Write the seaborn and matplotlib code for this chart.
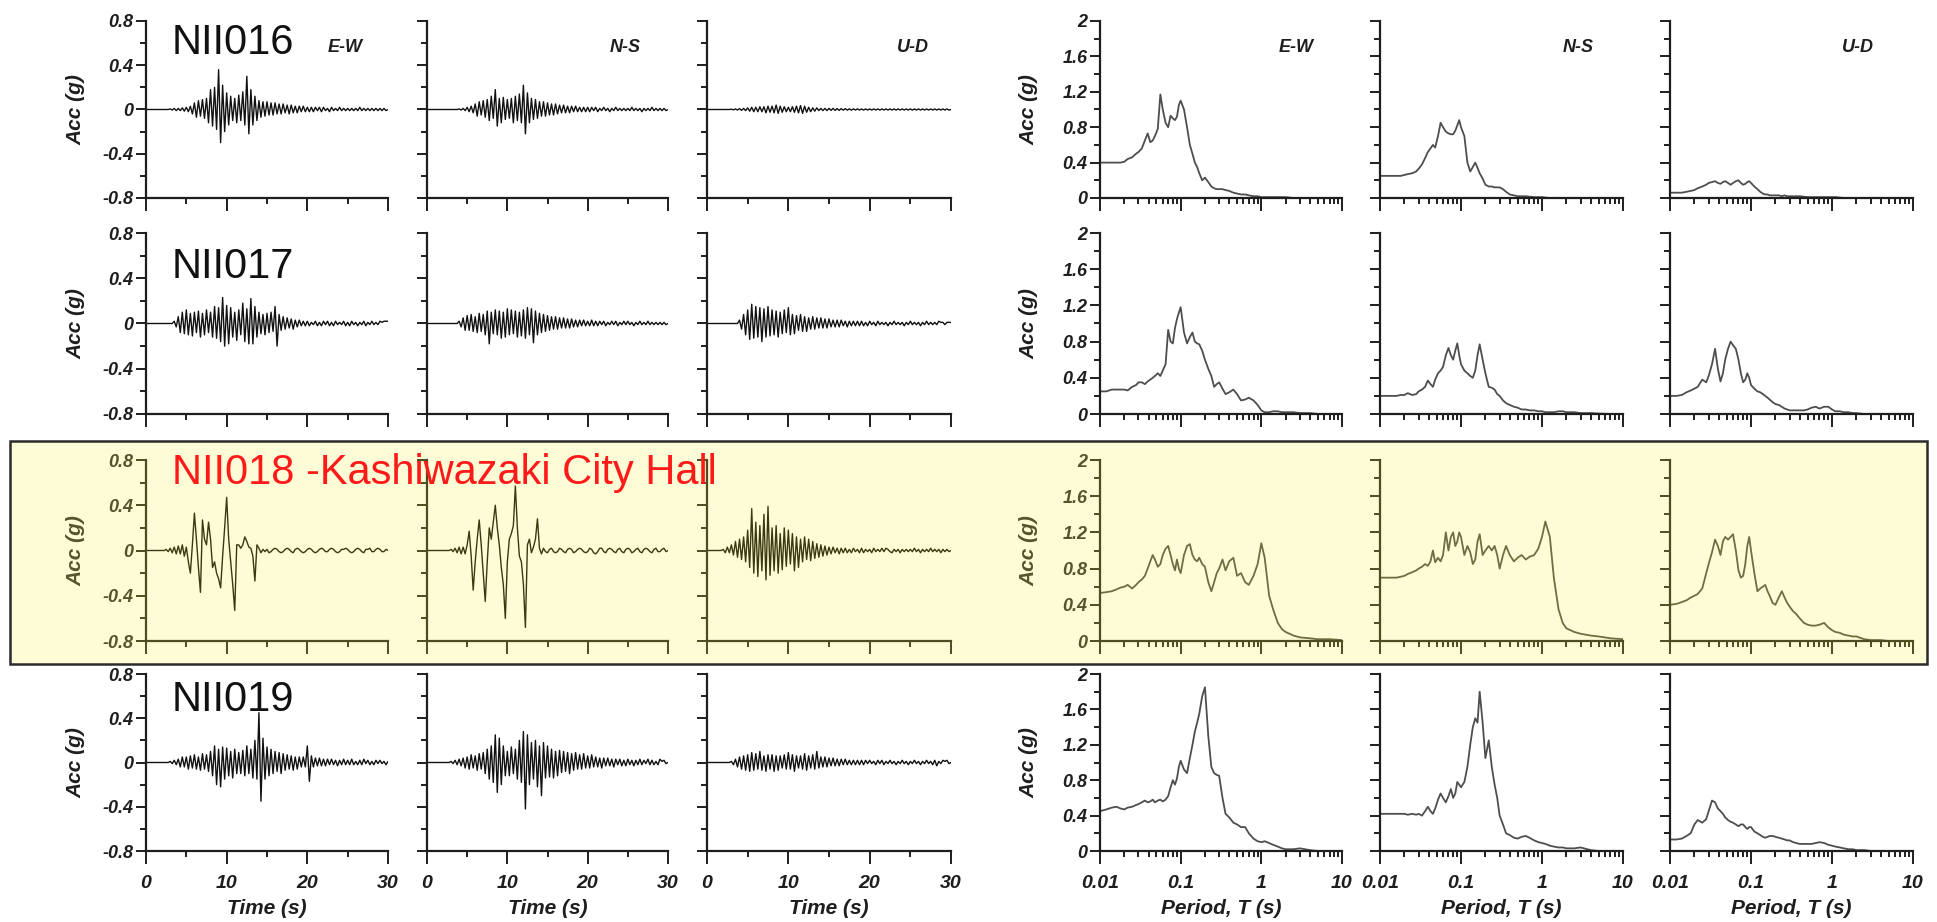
import numpy as np
import matplotlib
matplotlib.use('Agg')
import matplotlib.pyplot as plt
import matplotlib.ticker as mticker
from matplotlib.patches import Rectangle
import seaborn as sns

# ---------------------------------------------------------------- data
STATIONS = ['NII016', 'NII017', 'NII018 -Kashiwazaki City Hall', 'NII019']
COMPONENTS = ['E-W', 'N-S', 'U-D']
TIME_STEP = 0.25  # s, sampling of the traced records (0..30 s)

# acceleration time histories (g), one value every 0.25 s
ACC_016_EW = [0, 0, 0, 0, 0, 0, 0, 0, 0, 0, 0, 0, .005, -.005, .01, -.01, .01, -.01, .015, -.015,
              .02, -.02, .03, -.04, .06, -.07, .08, -.06, .09, -.08, .10, -.12, .18, -.15, .20, -.18, .36, -.30, .22, -.20,
              .15, -.14, .12, -.10, .10, -.12, .13, -.10, .16, -.14, .30, -.22, .18, -.14, .12, -.10, .08, -.07, .07, -.06,
              .07, -.05, .06, -.05, .06, -.04, .05, -.04, .05, -.03, .04, -.04, .04, -.03, .03, -.03, .03, -.02, .03, -.02,
              .02, -.02, .02, -.02, .02, -.01, .02, -.02, .02, -.01, .01, -.02, .02, -.01, .01, -.01, .02, -.01, .01, -.01,
              .01, -.01, .01, -.01, .01, -.01, .02, -.01, .01, -.01, .01, -.01, .01, -.01, .01, -.01, .01, -.01, .01, -.01,
              0]
ACC_016_NS = [0, 0, 0, 0, 0, 0, 0, 0, 0, 0, 0, 0, 0, 0, 0, 0, .005, -.005, .01, -.01,
              .02, -.02, .03, -.03, .05, -.06, .07, -.05, .08, -.07, .09, -.10, .12, -.08, .18, -.15, .10, -.12, .11, -.09,
              .09, -.08, .10, -.12, .12, -.10, .14, -.12, .22, -.22, .15, -.12, .10, -.09, .09, -.08, .07, -.06, .07, -.06,
              .06, -.05, .05, -.05, .05, -.04, .04, -.03, .04, -.03, .03, -.03, .03, -.02, .03, -.02, .02, -.02, .02, -.02,
              .02, -.02, .02, -.01, .02, -.02, .01, -.01, .02, -.01, .01, -.02, .01, -.01, .02, -.01, .01, -.01, .01, -.01,
              .01, -.01, .02, -.01, .01, -.01, .01, -.02, .01, -.01, .01, -.01, .02, -.01, .01, -.01, .01, -.01, .01, -.01,
              0]
ACC_016_UD = [0, 0, 0, 0, 0, 0, 0, 0, 0, 0, 0, 0, .003, -.003, .005, -.005, .008, -.008, .01, -.01,
              .015, -.015, .02, -.02, .02, -.02, .025, -.02, .025, -.03, .03, -.025, .03, -.03, .04, -.035, .03, -.025, .025, -.02,
              .02, -.02, .025, -.025, .03, -.03, .035, -.035, .03, -.025, .02, -.02, .015, -.015, .015, -.01, .01, -.01, .01, -.01,
              .01, -.008, .01, -.008, .008, -.008, .008, -.006, .008, -.006, .006, -.006, .006, -.005, .006, -.005, .005, -.005, .005, -.005,
              .005, -.005, .005, -.005, .005, -.005, .005, -.005, .005, -.005, .005, -.005, .005, -.005, .005, -.005, .005, -.005, .005, -.005,
              .005, -.005, .005, -.005, .005, -.005, .005, -.005, .005, -.005, .005, -.005, .005, -.005, .005, -.005, .005, -.005, .005, -.005,
              0]
ACC_017_EW = [0, 0, 0, 0, 0, 0, 0, 0, 0, 0, 0, 0, 0, 0, .02, -.03, .06, -.08, .10, -.09,
              .12, -.10, .09, -.11, .10, -.08, .11, -.12, .09, -.10, .12, -.08, .10, -.12, .15, -.13, .14, -.16, .23, -.20,
              .16, -.18, .14, -.12, .10, -.15, .12, -.10, .18, -.16, .13, -.18, .22, -.18, .15, -.12, .10, -.09, .08, -.10,
              .09, -.08, .10, -.07, .15, -.20, .08, -.06, .06, -.05, .05, -.04, .04, -.05, .03, -.03, .03, -.02, .02, -.02,
              .02, -.02, .01, -.01, .02, -.02, .01, -.02, .02, -.01, .02, -.02, .01, -.02, .02, -.01, .01, -.01, .02, -.02,
              .01, -.02, .02, -.01, .01, -.02, .01, -.01, .02, -.02, .01, -.01, .02, -.01, .01, -.01, .02, .01, .02, .02,
              .02]
ACC_017_NS = [0, 0, 0, 0, 0, 0, 0, 0, 0, 0, 0, 0, 0, 0, 0, 0, .02, -.03, .05, -.06,
              .07, -.06, .08, -.07, .06, -.08, .09, -.07, .08, -.10, .11, -.18, .10, -.09, .12, -.10, .11, -.13, .10, -.12,
              .13, -.10, .12, -.09, .11, -.12, .10, -.11, .12, -.13, .14, -.10, .13, -.17, .11, -.10, .09, -.08, .08, -.07,
              .07, -.06, .06, -.05, .06, -.05, .05, -.04, .05, -.04, .04, -.04, .04, -.03, .03, -.03, .03, -.02, .03, -.02,
              .02, -.02, .03, -.02, .02, -.02, .02, -.01, .02, -.02, .01, -.01, .02, -.01, .02, -.02, .01, -.01, .02, -.01,
              .02, -.01, .01, -.02, .01, -.01, .02, -.01, .01, -.01, .02, -.01, .01, -.01, .01, -.01, .01, -.01, .01, -.01,
              0]
ACC_017_UD = [0, 0, 0, 0, 0, 0, 0, 0, 0, 0, 0, 0, 0, 0, 0, 0, .03, -.05, .08, -.10,
              .12, -.14, .17, -.13, .15, -.12, .14, -.16, .13, -.12, .15, -.11, .12, -.10, .11, -.12, .10, -.09, .12, -.08,
              .14, -.10, .08, -.09, .07, -.06, .08, -.07, .06, -.07, .05, -.05, .06, -.05, .05, -.04, .05, -.04, .04, -.04,
              .04, -.03, .03, -.03, .03, -.03, .03, -.02, .02, -.03, .02, -.02, .02, -.02, .02, -.02, .02, -.02, .01, -.02,
              .02, -.01, .01, -.02, .02, -.01, .01, -.01, .01, -.02, .01, -.01, .02, -.01, .01, -.01, .01, -.02, .01, -.01,
              .02, -.01, .01, -.01, .01, -.02, .01, -.01, .02, -.01, .01, -.01, .01, -.01, .02, .01, .01, -.01, .01, .01,
              .01]
ACC_018_EW = [0, 0, 0, 0, 0, 0, 0, 0, 0, 0, .01, -.01, .02, -.02, .03, -.03, .04, -.03, .05, -.05,
              .03, -.10, -.20, .05, .33, .10, -.15, -.37, .27, .10, .05, .25, .10, -.15, -.10, -.20, -.25, -.33, -.05, .20,
              .47, .10, -.10, -.30, -.53, .05, .05, .02, .05, .12, .08, .03, .02, -.05, -.27, .05, .02, -.02, .01, -.01,
              .01, -.02, -.01, .01, .02, .01, -.01, -.02, -.01, .01, .02, .01, -.01, -.02, .01, .02, .01, -.01, -.02, -.01,
              .01, .02, .01, -.01, -.02, -.01, .01, .02, .01, -.01, -.01, .01, .02, .01, -.01, -.02, -.01, .01, .01, .02,
              .01, -.01, -.02, -.01, .01, .02, .01, -.01, -.02, .01, .01, .02, -.01, -.01, .01, .02, .01, -.01, -.01, .01,
              0]
ACC_018_NS = [0, 0, 0, 0, 0, 0, 0, 0, 0, 0, 0, 0, .01, -.01, .02, -.02, .03, -.03, .03, -.03,
              .05, .17, -.05, -.35, -.10, .10, .27, .05, -.20, -.45, -.10, .20, .10, .25, .40, .20, .05, -.15, -.30, -.60,
              -.10, .10, .15, .22, .57, .20, -.05, -.10, -.30, -.68, .05, .10, -.02, .03, .10, .28, .02, -.03, .02, -.01,
              -.02, .01, .02, -.01, -.02, -.01, .02, .01, -.01, -.02, .01, .02, .01, -.02, -.01, .01, .02, .01, -.01, -.02,
              -.01, .02, .01, -.02, -.03, -.01, .02, .02, -.01, -.02, .01, .02, .01, -.01, -.02, .01, .02, -.01, -.02, .01,
              .02, .01, -.02, -.01, .01, .02, -.01, -.02, .01, .02, .01, -.01, -.02, .01, .02, -.01, -.01, .01, .02, -.01,
              0]
ACC_018_UD = [0, 0, 0, 0, 0, 0, 0, 0, .01, -.02, .03, -.02, .05, -.04, .08, -.06, .10, -.08, .12, -.10,
              .18, -.15, .37, -.20, .25, -.23, .22, -.18, .32, -.26, .39, -.22, .20, -.18, .22, -.20, .15, -.17, .20, -.14,
              .18, -.12, .15, -.18, .12, -.15, .10, -.10, .12, -.08, .10, -.09, .08, -.07, .06, -.06, .05, -.05, .04, -.04,
              .03, -.03, .03, -.02, .02, -.03, .02, -.02, .02, -.02, .01, -.02, .02, -.01, .01, -.02, .02, -.02, .01, -.01,
              .01, -.02, .02, -.01, .01, -.01, .02, -.01, .02, .01, -.01, -.02, .01, -.01, .01, -.02, .01, -.01, .01, -.01,
              .01, -.01, .02, -.01, .01, -.02, .01, -.01, .01, -.01, .02, -.01, .01, -.01, .01, -.02, .01, -.01, .01, -.01,
              0]
ACC_019_EW = [0, 0, 0, 0, 0, 0, 0, 0, 0, 0, 0, 0, .01, -.01, .02, -.02, .03, -.04, .05, -.04,
              .05, -.06, .06, -.05, .07, -.06, .05, -.07, .08, -.06, .07, -.08, .10, -.12, .15, -.20, .12, -.22, .14, -.15,
              .13, -.12, .10, -.14, .12, -.10, .09, -.10, .11, -.12, .15, -.10, .12, -.14, .20, -.15, .45, -.35, .22, -.15,
              .14, -.12, .12, -.10, .10, -.08, .09, -.10, .08, -.07, .07, -.06, .06, -.07, .05, -.06, .05, -.04, .05, -.04,
              .15, -.17, .06, -.04, .04, -.03, .04, -.03, .03, -.03, .03, -.02, .03, -.02, .02, -.03, .02, -.02, .03, -.02,
              .02, -.02, .03, -.02, .01, -.02, .02, -.02, .03, -.01, .02, -.02, .01, -.02, .02, -.01, .02, -.01, .01, -.02,
              .01]
ACC_019_NS = [0, 0, 0, 0, 0, 0, 0, 0, 0, 0, 0, 0, .01, -.01, .02, -.02, .03, -.03, .04, -.05,
              .05, -.06, .07, -.05, .06, -.07, .08, -.06, .09, -.10, .12, -.15, .15, -.18, .25, -.27, .22, -.20, .15, -.12,
              .10, -.12, .14, -.10, .12, -.15, .20, -.18, .28, -.42, .25, -.20, .18, -.15, .20, -.22, .15, -.30, .18, -.14,
              .15, -.13, .12, -.14, .10, -.12, .11, -.09, .10, -.08, .09, -.10, .08, -.07, .09, -.06, .07, -.06, .08, -.05,
              .06, -.05, .07, -.04, .05, -.04, .04, -.05, .04, -.03, .04, -.03, .03, -.04, .03, -.02, .03, -.03, .02, -.03,
              .03, -.02, .02, -.03, .02, -.02, .03, -.02, .02, -.01, .03, -.02, .02, -.02, .01, -.02, .03, .01, .02, -.01,
              0]
ACC_019_UD = [0, 0, 0, 0, 0, 0, 0, 0, 0, 0, 0, 0, .01, -.02, .03, -.04, .05, -.06, .06, -.07,
              .07, -.08, .09, -.07, .08, -.06, .10, -.07, .06, -.08, .07, -.06, .07, -.08, .06, -.07, .06, -.05, .07, -.06,
              .09, -.06, .07, -.08, .06, -.05, .06, -.06, .08, -.07, .06, -.05, .07, -.06, .10, -.05, .05, -.04, .05, -.04,
              .04, -.03, .04, -.03, .03, -.03, .03, -.02, .03, -.02, .02, -.02, .02, -.02, .02, -.02, .02, -.02, .02, -.01,
              .02, -.01, .01, -.02, .02, -.01, .02, -.02, .01, -.01, .02, -.01, .01, -.02, .01, -.01, .02, -.01, .01, -.02,
              .01, -.01, .02, -.01, .01, -.02, .01, -.01, .02, -.01, .01, -.02, .02, -.03, .01, -.01, .02, .01, .02, -.01,
              0]

# response spectra (g) on a common period grid (s)
PERIODS = [0.010, 0.012, 0.014, 0.016, 0.018, 0.020, 0.022, 0.025, 0.028, 0.030,
           0.033, 0.036, 0.039, 0.042, 0.045, 0.048, 0.052, 0.056, 0.060, 0.065,
           0.070, 0.075, 0.080, 0.085, 0.090, 0.095, 0.100, 0.110, 0.120, 0.130,
           0.140, 0.150, 0.160, 0.170, 0.185, 0.200, 0.220, 0.240, 0.260, 0.280,
           0.300, 0.330, 0.360, 0.400, 0.450, 0.500, 0.560, 0.630, 0.700, 0.800,
           0.900, 1.000, 1.100, 1.250, 1.400, 1.600, 1.800, 2.000, 2.500, 3.000,
           4.000, 5.000, 7.000, 10.00]
SA_016_EW = [.40, .40, .40, .40, .40, .41, .44, .46, .50, .52,
             .56, .65, .73, .63, .65, .70, .78, 1.17, 1.00, .85,
             .80, .93, .90, .88, .92, 1.05, 1.10, 1.00, .80, .60,
             .50, .40, .35, .28, .20, .23, .18, .13, .11, .10,
             .10, .10, .09, .08, .06, .05, .04, .04, .03, .02,
             .02, .01, .01, .01, .01, .01, .01, .01, 0, 0,
             0, 0, 0, 0]
SA_016_NS = [.25, .25, .25, .25, .25, .26, .27, .28, .30, .33,
             .38, .45, .52, .56, .60, .57, .70, .85, .80, .75,
             .73, .72, .72, .76, .82, .88, .80, .70, .40, .30,
             .35, .40, .34, .28, .22, .15, .13, .13, .12, .12,
             .12, .10, .07, .04, .03, .02, .02, .02, .015, .01,
             .01, .01, .005, 0, 0, 0, 0, 0, 0, 0,
             0, 0, 0, 0]
SA_016_UD = [.06, .06, .06, .07, .08, .09, .11, .13, .15, .17,
             .18, .19, .17, .16, .18, .19, .17, .15, .17, .19,
             .20, .17, .15, .16, .18, .19, .17, .13, .10, .07,
             .05, .04, .04, .03, .03, .03, .03, .02, .03, .02,
             .02, .02, .02, .02, .015, .01, .01, .01, .01, .01,
             .01, .01, .01, .005, 0, 0, 0, 0, 0, 0,
             0, 0, 0, 0]
SA_017_EW = [.25, .25, .27, .27, .27, .27, .26, .30, .32, .35,
             .35, .33, .36, .38, .40, .42, .45, .42, .48, .55,
             .93, .80, .78, .95, 1.05, 1.12, 1.18, .90, .78, .85,
             .90, .80, .78, .77, .70, .60, .50, .42, .30, .33,
             .35, .28, .22, .24, .27, .22, .15, .16, .18, .15,
             .10, .04, .02, .02, .03, .03, .02, .02, .02, .01,
             .01, 0, 0, 0]
SA_017_NS = [.20, .20, .20, .20, .21, .21, .23, .21, .22, .25,
             .27, .30, .37, .33, .30, .38, .45, .48, .52, .65,
             .73, .65, .60, .70, .78, .65, .55, .48, .45, .42,
             .40, .48, .65, .77, .60, .45, .30, .29, .27, .22,
             .20, .15, .12, .10, .08, .07, .05, .05, .04, .04,
             .03, .03, .02, .02, .02, .03, .03, .02, .02, .01,
             .01, .005, 0, 0]
SA_017_UD = [.20, .20, .21, .24, .26, .28, .30, .38, .35, .42,
             .55, .72, .50, .36, .45, .60, .72, .80, .76, .72,
             .60, .45, .35, .38, .45, .40, .32, .28, .25, .24,
             .22, .20, .18, .16, .13, .11, .10, .08, .06, .05,
             .04, .04, .04, .04, .04, .05, .07, .08, .06, .08,
             .08, .05, .03, .03, .02, .02, .01, .01, 0, 0,
             0, 0, 0, 0]
SA_018_EW = [.53, .54, .55, .57, .59, .60, .62, .58, .62, .65,
             .68, .72, .80, .88, .95, .90, .82, .85, .95, 1.02,
             1.05, .95, .85, .78, .90, .80, .75, .95, 1.05, 1.07,
             .95, .90, .88, .92, .85, .82, .65, .55, .65, .75,
             .80, .90, .78, .88, .92, .72, .75, .65, .62, .72,
             .85, 1.08, .92, .50, .35, .20, .13, .10, .06, .04,
             .03, .02, .02, .01]
SA_018_NS = [.70, .70, .70, .70, .71, .72, .74, .76, .78, .80,
             .82, .85, .83, .88, 1.00, .87, .92, .88, .95, 1.20,
             1.00, 1.15, 1.20, 1.05, 1.10, 1.20, 1.15, .95, 1.05, .98,
             .85, .90, 1.10, 1.18, .95, 1.00, 1.05, 1.00, 1.05, .95,
             .80, .95, 1.05, .95, .88, .92, .95, .90, .93, .95,
             1.02, 1.15, 1.32, 1.15, .70, .35, .20, .14, .10, .08,
             .06, .05, .03, .02]
SA_018_UD = [.40, .41, .43, .45, .48, .50, .52, .58, .75, .85,
             .98, 1.12, 1.05, .95, 1.10, 1.15, 1.12, 1.15, 1.18, 1.00,
             .78, .70, .72, .85, 1.05, 1.15, 1.00, .75, .55, .58,
             .60, .62, .55, .50, .42, .40, .48, .55, .48, .42,
             .38, .33, .30, .25, .20, .18, .17, .17, .18, .20,
             .15, .12, .10, .09, .07, .06, .05, .05, .02, .01,
             .01, 0, 0, 0]
SA_019_EW = [.45, .47, .49, .50, .48, .47, .49, .50, .52, .53,
             .55, .57, .55, .56, .58, .55, .57, .58, .56, .58,
             .62, .72, .80, .75, .82, .95, 1.02, .92, .88, 1.05,
             1.20, 1.35, 1.45, 1.55, 1.75, 1.85, 1.30, .95, .88, .86,
             .85, .60, .42, .38, .32, .30, .27, .27, .20, .14,
             .11, .10, .11, .09, .07, .05, .03, .02, .02, .03,
             .01, 0, 0, 0]
SA_019_NS = [.42, .42, .42, .42, .42, .42, .41, .42, .41, .42,
             .40, .45, .50, .45, .42, .48, .58, .65, .60, .55,
             .62, .70, .60, .65, .78, .75, .72, .78, .95, 1.20,
             1.40, 1.50, 1.45, 1.80, 1.45, 1.05, 1.25, .95, .75, .60,
             .40, .30, .20, .18, .15, .14, .16, .17, .15, .12,
             .10, .09, .08, .06, .05, .04, .04, .03, .03, .04,
             .01, 0, 0, 0]
SA_019_UD = [.13, .13, .14, .17, .20, .30, .35, .32, .36, .45,
             .57, .55, .48, .45, .42, .38, .35, .33, .32, .30,
             .28, .30, .30, .27, .25, .27, .27, .22, .20, .18,
             .16, .15, .16, .17, .17, .16, .15, .14, .13, .12,
             .12, .10, .09, .08, .08, .08, .08, .09, .10, .09,
             .07, .06, .05, .04, .03, .02, .02, .01, .01, 0,
             0, 0, 0, 0]

ACC = [[ACC_016_EW, ACC_016_NS, ACC_016_UD],
       [ACC_017_EW, ACC_017_NS, ACC_017_UD],
       [ACC_018_EW, ACC_018_NS, ACC_018_UD],
       [ACC_019_EW, ACC_019_NS, ACC_019_UD]]
SA = [[SA_016_EW, SA_016_NS, SA_016_UD],
      [SA_017_EW, SA_017_NS, SA_017_UD],
      [SA_018_EW, SA_018_NS, SA_018_UD],
      [SA_019_EW, SA_019_NS, SA_019_UD]]
for row in ACC:
    for rec in row:
        assert len(rec) == 121, len(rec)
for row in SA:
    for rec in row:
        assert len(rec) == len(PERIODS), len(rec)

time = np.arange(121) * TIME_STEP
periods = np.array(PERIODS)

# ---------------------------------------------------------------- style
sns.set_theme(style='ticks')
plt.rcParams['font.family'] = ['Liberation Sans', 'DejaVu Sans']
plt.rcParams.update({'font.style': 'italic', 'font.weight': 'bold',
                     'axes.labelweight': 'bold', 'axes.unicode_minus': False})

W, H = 1937, 922
fig = plt.figure(figsize=(W / 100, H / 100), dpi=100, facecolor='white')

LEFT_COLS = [(146, 388), (427, 668), (707, 951)]
RIGHT_COLS = [(1100, 1342), (1380, 1623), (1670, 1913)]
ROWS = [(21, 198), (233, 414), (460, 641), (674, 851)]
HIGHLIGHT = 2
fmt_g = mticker.FuncFormatter(lambda v, p: f'{v:g}')


def px_axes(x0, x1, y0, y1):
    return fig.add_axes([x0 / W, 1 - y1 / H, (x1 - x0) / W, (y1 - y0) / H])


def style(ax, ink, lab, first_col, last_row):
    ax.set_facecolor('none')
    sns.despine(ax=ax)
    for s in ('left', 'bottom'):
        ax.spines[s].set_color(ink)
        ax.spines[s].set_linewidth(1.6)
    ax.tick_params(which='both', direction='out', color=ink, width=1.4, labelcolor=lab)
    ax.tick_params(which='major', length=7)
    ax.tick_params(which='minor', length=4)
    ax.tick_params(axis='y', labelsize=13, pad=2, labelleft=first_col)
    ax.tick_params(axis='x', which='major', length=9, labelsize=14, pad=8, labelbottom=last_row)
    ax.set_xlabel('')
    ax.set_ylabel('')


# highlighted station band
fig.patches.append(Rectangle((10 / W, 1 - 664 / H), 1917 / W, 223 / H, transform=fig.transFigure,
                             facecolor='#fdfcd6', edgecolor='#2b2b2b', linewidth=1.8, zorder=-1))

for r, (y0, y1) in enumerate(ROWS):
    hl = r == HIGHLIGHT
    ink = '#4d4d22' if hl else '#1e1e1e'
    lab = '#55552d' if hl else '#1e1e1e'
    trace = '#3a3a10' if hl else '#111111'
    spec = '#6e6e42' if hl else '#4e4e4e'

    for c, (x0, x1) in enumerate(LEFT_COLS):
        ax = px_axes(x0, x1, y0, y1)
        sns.lineplot(x=time, y=ACC[r][c], ax=ax, color=trace, linewidth=1.0, estimator=None)
        ax.set_xlim(0, 30)
        ax.set_ylim(-0.8, 0.8)
        ax.set_xticks([0, 10, 20, 30])
        ax.set_xticks([5, 15, 25], minor=True)
        ax.set_yticks([-0.8, -0.4, 0, 0.4, 0.8])
        ax.set_yticks([-0.6, -0.2, 0.2, 0.6], minor=True)
        ax.yaxis.set_major_formatter(fmt_g)
        style(ax, ink, lab, c == 0, r == len(ROWS) - 1)
        if c == 0:
            ax.set_ylabel('Acc (g)', fontsize=15, fontweight='bold', color=lab)
            ax.yaxis.set_label_coords(-0.25, 0.5)
        if r == len(ROWS) - 1:
            ax.set_xlabel('Time (s)', fontsize=15, fontweight='bold', color=lab)
            ax.xaxis.set_label_coords(0.5, -0.27)

    for c, (x0, x1) in enumerate(RIGHT_COLS):
        ax = px_axes(x0, x1, y0, y1)
        sns.lineplot(x=periods, y=SA[r][c], ax=ax, color=spec, linewidth=1.3, estimator=None)
        ax.set_xscale('log')
        ax.set_xlim(0.01, 10)
        ax.set_ylim(0, 2)
        ax.xaxis.set_major_locator(mticker.LogLocator(base=10, numticks=10))
        ax.xaxis.set_minor_locator(mticker.LogLocator(base=10, subs=np.arange(2, 10), numticks=10))
        ax.xaxis.set_major_formatter(fmt_g)
        ax.xaxis.set_minor_formatter(mticker.NullFormatter())
        ax.set_yticks([0, 0.4, 0.8, 1.2, 1.6, 2])
        ax.set_yticks([0.2, 0.6, 1.0, 1.4, 1.8], minor=True)
        ax.yaxis.set_major_formatter(fmt_g)
        style(ax, ink, lab, c == 0, r == len(ROWS) - 1)
        if c == 0:
            ax.set_ylabel('Acc (g)', fontsize=15, fontweight='bold', color=lab)
            ax.yaxis.set_label_coords(-0.256, 0.5)
        if r == len(ROWS) - 1:
            ax.set_xlabel('Period, T (s)', fontsize=15, fontweight='bold', color=lab)
            ax.xaxis.set_label_coords(0.5, -0.27)

# station names
STATION_Y = [43, 267, 473, 700]
for name, y, r in zip(STATIONS, STATION_Y, range(4)):
    fig.text(172 / W, 1 - y / H, name, fontsize=30, ha='left', va='center',
             fontstyle='normal', fontweight='normal',
             color='#ff1a1a' if r == HIGHLIGHT else '#111111')

# component labels on the top row
for comp, x in zip(COMPONENTS, [345, 625, 913]):
    fig.text(x / W, 1 - 47 / H, comp, fontsize=13, ha='center', va='center', color='#1e1e1e')
for comp, x in zip(COMPONENTS, [1296, 1578, 1858]):
    fig.text(x / W, 1 - 47 / H, comp, fontsize=13, ha='center', va='center', color='#1e1e1e')

fig.savefig('out.png', dpi=100, facecolor='white')
